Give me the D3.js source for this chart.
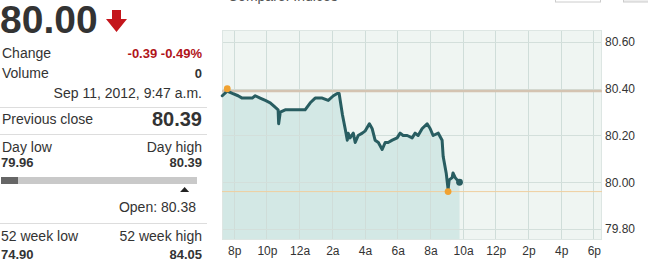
<!DOCTYPE html>
<html><head><meta charset="utf-8">
<script src="https://cdn.jsdelivr.net/npm/d3@7"></script>
<style>
html,body{margin:0;padding:0;background:#fff;overflow:hidden}
svg{display:block;font-family:"Liberation Sans",Arial,sans-serif}
</style></head>
<body><svg id="c" width="648" height="263"></svg>
<script>
// ---- data ----
const times = ["2012-09-10T19:16","2012-09-10T19:34","2012-09-10T19:53","2012-09-10T20:14","2012-09-10T20:29","2012-09-10T20:48","2012-09-10T21:06","2012-09-10T21:17","2012-09-10T21:35","2012-09-10T21:54","2012-09-10T22:12","2012-09-10T22:31","2012-09-10T22:41","2012-09-10T22:43","2012-09-10T22:49","2012-09-10T23:07","2012-09-10T23:33","2012-09-10T23:55","2012-09-11T00:20","2012-09-11T00:39","2012-09-11T00:57","2012-09-11T01:23","2012-09-11T01:45","2012-09-11T02:04","2012-09-11T02:18","2012-09-11T02:25","2012-09-11T02:37","2012-09-11T02:47","2012-09-11T02:55","2012-09-11T02:58","2012-09-11T03:05","2012-09-11T03:17","2012-09-11T03:24","2012-09-11T03:35","2012-09-11T03:50","2012-09-11T04:01","2012-09-11T04:16","2012-09-11T04:26","2012-09-11T04:37","2012-09-11T04:49","2012-09-11T05:03","2012-09-11T05:14","2012-09-11T05:25","2012-09-11T05:40","2012-09-11T05:58","2012-09-11T06:09","2012-09-11T06:20","2012-09-11T06:35","2012-09-11T06:53","2012-09-11T07:04","2012-09-11T07:15","2012-09-11T07:30","2012-09-11T07:48","2012-09-11T07:59","2012-09-11T08:10","2012-09-11T08:29","2012-09-11T08:43","2012-09-11T08:47","2012-09-11T08:58","2012-09-11T09:05","2012-09-11T09:09","2012-09-11T09:20","2012-09-11T09:23","2012-09-11T09:31","2012-09-11T09:38","2012-09-11T09:47"];
const prices = [80.37,80.39,80.38,80.37,80.36,80.36,80.36,80.37,80.36,80.35,80.34,80.32,80.31,80.25,80.30,80.31,80.31,80.31,80.31,80.34,80.36,80.36,80.35,80.37,80.38,80.38,80.29,80.23,80.18,80.21,80.19,80.21,80.17,80.20,80.21,80.22,80.25,80.23,80.18,80.17,80.14,80.17,80.17,80.18,80.19,80.21,80.20,80.20,80.19,80.21,80.20,80.23,80.25,80.23,80.20,80.21,80.18,80.11,80.04,79.97,80.01,80.02,80.04,80.02,80.01,80.00];
const yTicks = [79.80, 80.00, 80.20, 80.40, 80.60];
const xTickTimes = ["2012-09-10T20:00","2012-09-10T22:00","2012-09-11T00:00","2012-09-11T02:00","2012-09-11T04:00","2012-09-11T06:00","2012-09-11T08:00","2012-09-11T10:00","2012-09-11T12:00","2012-09-11T14:00","2012-09-11T16:00","2012-09-11T18:00"];
const xTickLabels = ["8p","10p","12a","2a","4a","6a","8a","10a","12p","2p","4p","6p"];
const domainStart = "2012-09-10T19:15", domainEnd = "2012-09-11T18:30";
const previousClose = 80.39, dayLow = 79.96, dayHigh = 80.39, openPrice = 80.38;
const lastPrice = "80.00", changeText = "-0.39 -0.49%", volume = "0";
const stamp = "Sep 11, 2012, 9:47 a.m.";
const wk52Low = "74.90", wk52High = "84.05";
const lowTime = "2012-09-11T09:05";

// ---- chart ----
const parse = d3.timeParse("%Y-%m-%dT%H:%M");
const data = times.map((t,i)=>({t:parse(t), v:prices[i]}));
const svg = d3.select("#c");
const L=222, R=602, T=30, B=240;
const x = d3.scaleTime().domain([parse(domainStart), parse(domainEnd)]).range([L,R]);
const y = d3.scaleLinear().domain([79.80, 80.60]).range([229, 42]);

svg.append("rect").attr("x",L).attr("y",T).attr("width",R-L).attr("height",B-T).attr("fill","#eff5f2");

const area = d3.area().x(d=>x(d.t)).y0(B).y1(d=>y(d.v));
svg.append("path").datum(data).attr("d",area).attr("fill","#d3e8e5");

// grid
const g = svg.append("g");
g.selectAll(".vg").data(xTickTimes).enter().append("line")
  .attr("x1",d=>x(parse(d))).attr("x2",d=>x(parse(d))).attr("y1",T).attr("y2",B)
  .attr("stroke","#cfddd9").attr("stroke-width",1).attr("shape-rendering","crispEdges");
g.selectAll(".hg").data(yTicks).enter().append("line")
  .attr("x1",L).attr("x2",R).attr("y1",d=>Math.round(y(d))+0.5).attr("y2",d=>Math.round(y(d))+0.5)
  .attr("stroke","#d3dfdb").attr("stroke-width",1);
svg.append("rect").attr("x",L+0.5).attr("y",T+0.5).attr("width",R-L-1).attr("height",B-T-1)
  .attr("fill","none").attr("stroke","#dde6e3");

// reference lines
svg.append("line").attr("x1",L).attr("x2",R).attr("y1",y(previousClose)).attr("y2",y(previousClose))
  .attr("stroke","#d4c3b1").attr("stroke-width",2.5);
svg.append("line").attr("x1",L).attr("x2",R).attr("y1",y(dayLow)).attr("y2",y(dayLow))
  .attr("stroke","#efcf9f").attr("stroke-width",1);

// price line
const line = d3.line().x(d=>x(d.t)).y(d=>y(d.v));
svg.append("path").datum(data).attr("d",line).attr("fill","none")
  .attr("stroke","#285d61").attr("stroke-width",3).attr("stroke-linejoin","round").attr("stroke-linecap","round");
const last = data[data.length-1];
svg.append("circle").attr("cx",x(last.t)).attr("cy",y(last.v)).attr("r",3.4).attr("fill","#285d61");

// markers
svg.append("circle").attr("cx",x(data[0].t)+5).attr("cy",y(80.40)).attr("r",3.4).attr("fill","#f0a232");
svg.append("circle").attr("cx",x(parse(lowTime))).attr("cy",y(dayLow)).attr("r",3.4).attr("fill","#f0a232");

// axes
const yAxis = d3.axisRight(y).tickValues(yTicks).tickFormat(d3.format(".2f")).tickSize(0).tickPadding(3);
const ya = svg.append("g").attr("transform",`translate(${R},0)`).call(yAxis);
ya.select(".domain").remove();
ya.selectAll("text").attr("font-size",12).attr("fill","#333").attr("font-family","Liberation Sans, Arial, sans-serif");

const xAxis = d3.axisBottom(x).tickValues(xTickTimes.map(parse))
  .tickFormat((d,i)=>xTickLabels[i]).tickSize(0).tickPadding(6);
const xa = svg.append("g").attr("transform",`translate(0,${B})`).call(xAxis);
xa.select(".domain").remove();
xa.selectAll("text").attr("font-size",12).attr("fill","#333").attr("font-family","Liberation Sans, Arial, sans-serif");

// compare header (clipped at top, as in the reference)
svg.append("text").attr("x",228).attr("y",1).attr("font-size",14).attr("fill","#555").text("Compare: Indices");
svg.append("rect").attr("x",555.5).attr("y",-20).attr("width",45).attr("height",22).attr("fill","#fff").attr("stroke","#ccc");
svg.append("rect").attr("x",623.5).attr("y",-20).attr("width",30).attr("height",22).attr("fill","#eee").attr("stroke","#ccc");

// ---- left panel ----
const P = svg.append("g").attr("fill","#333");
const RX = 202;
P.append("text").attr("x",0).attr("y",33).attr("font-size",39).attr("font-weight","bold").attr("fill","#333").text(lastPrice);
// down arrow
P.append("path").attr("d","M112,10 L121,10 L121,19 L127,19 L116.5,32 L106,19 L112,19 Z").attr("fill","#c4161c");

function row(yc, left, right, opts={}){
  P.append("text").attr("x",2).attr("y",yc).attr("dy","0.35em").attr("font-size",opts.ls||14).attr("fill","#333").text(left);
  if(right!=null) P.append("text").attr("x",RX).attr("y",yc).attr("dy","0.35em").attr("text-anchor","end")
    .attr("font-size",opts.rs||13).attr("font-weight",opts.rw||"bold").attr("fill",opts.rc||"#333").text(right);
}
row(53, "Change", changeText, {rc:"#b0141a", rs:13});
row(73, "Volume", volume, {rs:13});
P.append("text").attr("x",RX).attr("y",93).attr("dy","0.35em").attr("text-anchor","end").attr("font-size",14).attr("fill","#333").text(stamp);
P.append("line").attr("x1",0).attr("x2",207).attr("y1",107.5).attr("y2",107.5).attr("stroke","#ddd");
row(119, "Previous close", d3.format(".2f")(previousClose), {rs:20});
P.append("line").attr("x1",0).attr("x2",207).attr("y1",134.5).attr("y2",134.5).attr("stroke","#ddd");
P.append("text").attr("x",2).attr("y",147).attr("dy","0.35em").attr("font-size",14).text("Day low");
P.append("text").attr("x",RX).attr("y",147).attr("dy","0.35em").attr("text-anchor","end").attr("font-size",14).text("Day high");
P.append("text").attr("x",1).attr("y",162).attr("dy","0.35em").attr("font-size",13).attr("font-weight","bold").text(d3.format(".2f")(dayLow));
P.append("text").attr("x",RX).attr("y",162).attr("dy","0.35em").attr("text-anchor","end").attr("font-size",13).attr("font-weight","bold").text(d3.format(".2f")(dayHigh));
// range bar
const rb = d3.scaleLinear().domain([dayLow, dayHigh]).range([1,189]);
P.append("rect").attr("x",1).attr("y",177).attr("width",196).attr("height",7).attr("fill","#c9c9c9");
P.append("rect").attr("x",1).attr("y",177).attr("width",17).attr("height",7).attr("fill","#666");
const ox = rb(openPrice);
P.append("path").attr("d",`M${ox},187 L${ox+4.5},192 L${ox-4.5},192 Z`).attr("fill","#222");
P.append("text").attr("x",196).attr("y",207).attr("dy","0.35em").attr("text-anchor","end").attr("font-size",14).text("Open: " + d3.format(".2f")(openPrice));
P.append("line").attr("x1",0).attr("x2",207).attr("y1",223.5).attr("y2",223.5).attr("stroke","#ddd");
P.append("text").attr("x",1).attr("y",236).attr("dy","0.35em").attr("font-size",14).text("52 week low");
P.append("text").attr("x",RX).attr("y",236).attr("dy","0.35em").attr("text-anchor","end").attr("font-size",14).text("52 week high");
P.append("text").attr("x",1).attr("y",254).attr("dy","0.35em").attr("font-size",13).attr("font-weight","bold").text(wk52Low);
P.append("text").attr("x",RX).attr("y",254).attr("dy","0.35em").attr("text-anchor","end").attr("font-size",13).attr("font-weight","bold").text(wk52High);
</script></body></html>
